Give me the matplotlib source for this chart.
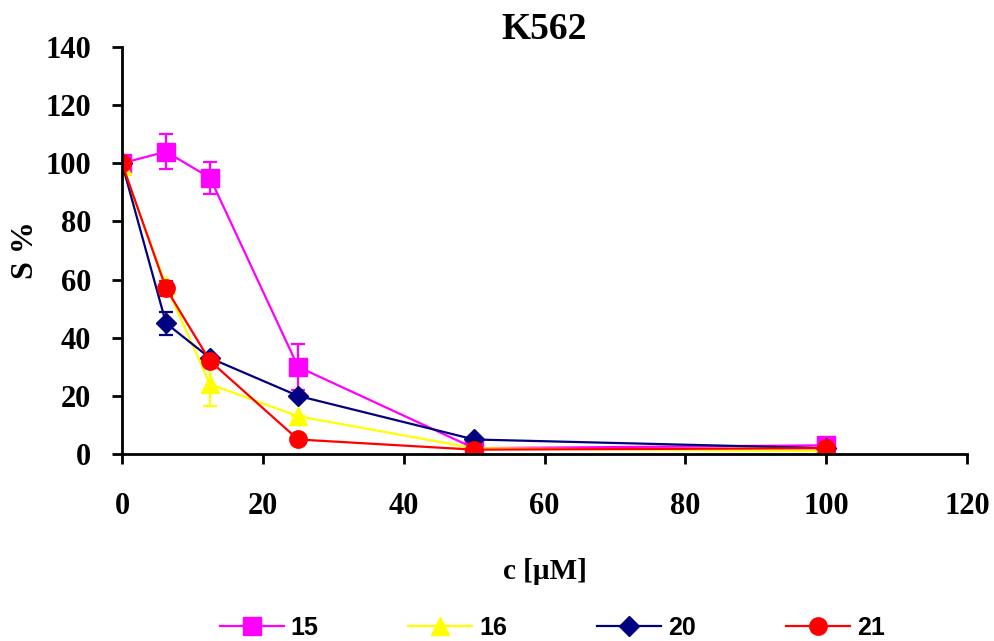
import matplotlib
matplotlib.use("Agg")
import matplotlib.pyplot as plt

conc = [0, 6.25, 12.5, 25, 50, 100]

s15 = [100, 104, 95, 30, 2, 3]
e15 = [0, 6, 5.5, 8, 0, 0]
s16 = [99, 58, 24, 13, 2, 1]
e16 = [2, 0, 7.5, 0, 0, 0]
s20 = [100, 45, 33, 20, 5, 2]
e20 = [0, 4, 0, 0, 0, 0]
s21 = [100, 57, 32, 5, 1.5, 2]
e21 = [0, 2.5, 0, 1, 0, 0]

series = [
    ("15", s15, e15, "#ff00ff", "s", 12.5),
    ("16", s16, e16, "#ffff00", "^", 13),
    ("20", s20, e20, "#000080", "D", 10),
    ("21", s21, e21, "#ff0000", "o", 12.5),
]

serif = "Liberation Serif"
fig = plt.figure(figsize=(9.95, 6.41), dpi=100)
ax = fig.add_axes([0.1226, 0.2917, 0.8494, 0.635])

handles = []
for name, y, err, col, mk, ms in series:
    c = ax.errorbar(conc, y, yerr=err, color=col, marker=mk, markersize=ms,
                    linewidth=1.6, elinewidth=1.6, capsize=5, capthick=1.6,
                    label=name)
    handles.append(c[0])

ax.set_xlim(0, 120)
ax.set_ylim(0, 140)
ax.set_xticks(range(0, 121, 20))
ax.set_yticks(range(0, 141, 20))
for s in ["top", "right"]:
    ax.spines[s].set_visible(False)
for s in ["left", "bottom"]:
    ax.spines[s].set_linewidth(2)
ax.tick_params(direction="out", length=7, width=2, labelsize=22)
ax.tick_params(axis="x", pad=20)
ax.tick_params(axis="y", pad=15)
for lbl in ax.get_xticklabels() + ax.get_yticklabels():
    lbl.set_fontfamily(serif)
    lbl.set_fontweight("bold")

ax.set_title("K562", fontsize=27, fontweight="bold", fontfamily=serif, pad=2)
ax.set_xlabel("c [\u00b5M]", fontsize=21, fontweight="bold", fontfamily=serif, labelpad=27)
ax.set_ylabel("S %", fontsize=23, fontweight="bold", fontfamily=serif, labelpad=4)

fig.legend(handles=handles, labels=[s[0] for s in series],
           loc="center", bbox_to_anchor=(0.555, 0.02), ncol=4, frameon=False,
           prop={"family": "Liberation Sans", "weight": "bold", "size": 18},
           handlelength=2.56, columnspacing=3.6, handletextpad=0.28,
           borderpad=0, borderaxespad=0)

fig.savefig("out.png", dpi=100)
